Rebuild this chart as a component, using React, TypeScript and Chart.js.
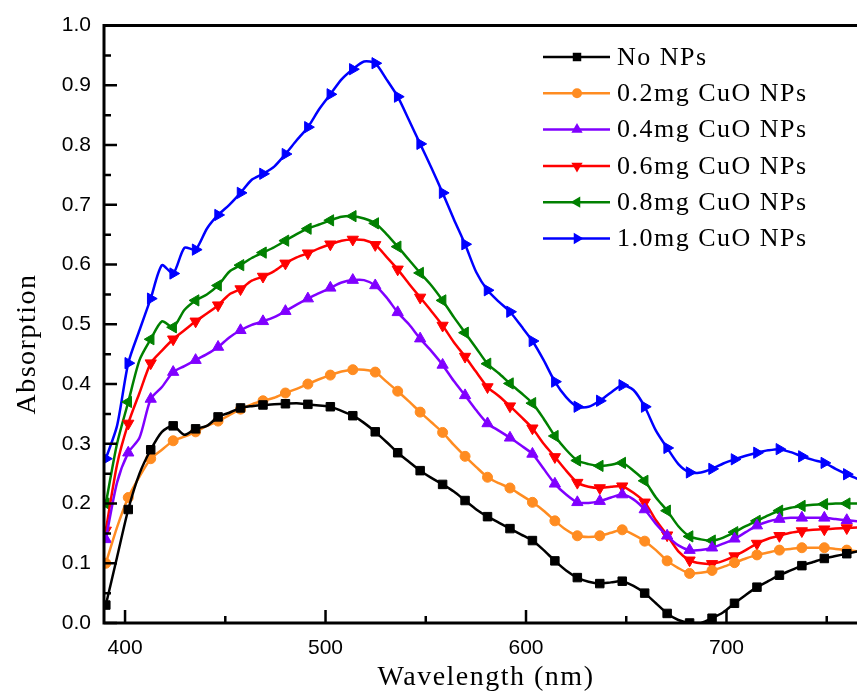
import React, { useEffect, useRef } from "react";
import { Chart, registerables } from "chart.js";

Chart.register(...registerables);

const wavelengths = [
  390.4, 396.0, 401.6, 407.2, 412.8, 418.4, 424.0, 429.6, 435.2, 440.8,
  446.4, 452.0, 457.6, 463.2, 468.8, 474.4, 480.0, 485.6, 491.2, 496.8,
  502.4, 508.0, 513.6, 519.2, 524.8, 530.4, 536.0, 541.6, 547.2, 552.8,
  558.4, 564.0, 569.6, 575.2, 580.8, 586.4, 592.0, 597.6, 603.2, 608.8,
  614.4, 620.0, 625.6, 631.2, 636.8, 642.4, 648.0, 653.6, 659.2, 664.8,
  670.4, 676.0, 681.6, 687.2, 692.8, 698.4, 704.0, 709.6, 715.2, 720.8,
  726.4, 732.0, 737.6, 743.2, 748.8, 754.4, 760.0, 765.6,
];

const noNPs = [
  0.03, 0.11, 0.19, 0.25, 0.29, 0.32, 0.33, 0.315, 0.325, 0.33,
  0.345, 0.352, 0.36, 0.363, 0.365, 0.366, 0.367, 0.368, 0.366, 0.364,
  0.362, 0.355, 0.347, 0.335, 0.32, 0.303, 0.285, 0.27, 0.255, 0.243,
  0.232, 0.22, 0.205, 0.19, 0.178, 0.168, 0.158, 0.148, 0.138, 0.122,
  0.104, 0.088, 0.076, 0.069, 0.066, 0.068, 0.07, 0.062, 0.05, 0.033,
  0.016, 0.005, 0.0, 0.0, 0.008, 0.018, 0.033, 0.047, 0.06, 0.07,
  0.08, 0.088, 0.096, 0.102, 0.108, 0.112, 0.116, 0.12,
];

const cuo02 = [
  0.1, 0.16, 0.21, 0.245, 0.275, 0.29, 0.305, 0.312, 0.32, 0.33,
  0.338, 0.348, 0.358, 0.366, 0.372, 0.377, 0.385, 0.392, 0.4, 0.408,
  0.415, 0.421, 0.424, 0.424, 0.42, 0.404, 0.388, 0.371, 0.353, 0.336,
  0.319, 0.298, 0.279, 0.261, 0.244, 0.234, 0.226, 0.214, 0.202, 0.188,
  0.171, 0.156, 0.146, 0.144, 0.146, 0.151, 0.156, 0.148, 0.137, 0.122,
  0.104, 0.092, 0.083, 0.084, 0.088, 0.094, 0.101, 0.108, 0.114, 0.118,
  0.122, 0.124, 0.126, 0.126, 0.126, 0.124, 0.122, 0.12,
];

const cuo04 = [
  0.14, 0.235, 0.285, 0.31, 0.375, 0.395, 0.42, 0.43, 0.44, 0.45,
  0.462, 0.478, 0.49, 0.499, 0.505, 0.512, 0.522, 0.533, 0.543, 0.552,
  0.561, 0.57, 0.574, 0.574, 0.565, 0.545, 0.52, 0.5, 0.476, 0.455,
  0.432, 0.405, 0.381, 0.356, 0.334, 0.322, 0.31, 0.297, 0.283, 0.258,
  0.233, 0.215, 0.202, 0.201, 0.204, 0.21, 0.215, 0.207, 0.19, 0.166,
  0.146, 0.13, 0.122, 0.122, 0.126, 0.133, 0.141, 0.152, 0.163, 0.17,
  0.174, 0.176, 0.176, 0.176, 0.176, 0.174, 0.172, 0.17,
];

const cuo06 = [
  0.155, 0.265, 0.334, 0.385, 0.435, 0.456, 0.475, 0.49, 0.505, 0.518,
  0.532, 0.55, 0.559, 0.573, 0.58, 0.589, 0.602, 0.612, 0.619, 0.627,
  0.634, 0.64, 0.642, 0.641, 0.633, 0.613, 0.592, 0.568, 0.545, 0.522,
  0.498, 0.47, 0.446, 0.42, 0.395, 0.38, 0.363, 0.345, 0.326, 0.3,
  0.278, 0.255, 0.235, 0.228, 0.226, 0.228, 0.229, 0.218, 0.202, 0.172,
  0.147, 0.12, 0.105, 0.1, 0.099, 0.104, 0.112, 0.122, 0.133, 0.141,
  0.146, 0.151, 0.154, 0.156, 0.157, 0.158, 0.159, 0.16,
];

const cuo08 = [
  0.2, 0.3, 0.37, 0.44, 0.475, 0.505, 0.495, 0.524, 0.54, 0.55,
  0.565, 0.588, 0.599, 0.611, 0.62, 0.629, 0.64, 0.651, 0.66, 0.667,
  0.674, 0.68, 0.681, 0.677, 0.669, 0.651, 0.63, 0.608, 0.586, 0.565,
  0.54, 0.512, 0.486, 0.46, 0.434, 0.418, 0.401, 0.385, 0.368, 0.342,
  0.313, 0.29, 0.272, 0.266, 0.263, 0.265, 0.268, 0.255, 0.238, 0.21,
  0.188, 0.162, 0.145, 0.14, 0.138, 0.143, 0.152, 0.162, 0.171, 0.18,
  0.188, 0.193, 0.196, 0.198, 0.199, 0.2, 0.2, 0.2,
];

const cuo10 = [
  0.275, 0.33, 0.435, 0.49, 0.543, 0.599, 0.585, 0.628, 0.625, 0.66,
  0.683, 0.7, 0.72, 0.742, 0.752, 0.764, 0.785, 0.808, 0.83, 0.86,
  0.885, 0.91, 0.927, 0.94, 0.937, 0.91, 0.881, 0.842, 0.802, 0.762,
  0.72, 0.676, 0.634, 0.587, 0.557, 0.538, 0.521, 0.497, 0.472, 0.44,
  0.404, 0.378, 0.362, 0.362, 0.372, 0.386, 0.398, 0.39, 0.362, 0.322,
  0.293, 0.266, 0.252, 0.252, 0.258, 0.267, 0.274, 0.28, 0.285, 0.289,
  0.291, 0.286, 0.279, 0.273, 0.268, 0.258, 0.249, 0.241,
];

const seriesLabels = [
  "No NPs",
  "0.2mg CuO NPs",
  "0.4mg CuO NPs",
  "0.6mg CuO NPs",
  "0.8mg CuO NPs",
  "1.0mg CuO NPs",
];
const seriesValues = [noNPs, cuo02, cuo04, cuo06, cuo08, cuo10];
const seriesColors = ["#000000", "#FF8C21", "#8000FF", "#FF0000", "#008000", "#0000FF"];
const seriesShapes = ["rect", "circle", "triangle", "triangle", "triangle", "triangle"];
const seriesRotations = [0, 0, 0, 180, -90, 90];
const seriesRadii = [6, 5, 6.5, 6.5, 6.5, 6.5];

const xMajorTicks = [400, 500, 600, 700];
const xMinorTicks = [450, 550, 650, 750];
const yMajorTicks = [0, 0.1, 0.2, 0.3, 0.4, 0.5, 0.6, 0.7, 0.8, 0.9, 1.0];
const yMinorTicks = [0.05, 0.15, 0.25, 0.35, 0.45, 0.55, 0.65, 0.75, 0.85, 0.95];

const xTitle = "Wavelength (nm)";
const yTitle = "Absorption";

function drawMarker(ctx: CanvasRenderingContext2D, shape: string, x: number, y: number, r: number, rotDeg: number) {
  ctx.beginPath();
  if (shape === "rect") {
    const s = Math.SQRT1_2 * r;
    ctx.rect(x - s, y - s, 2 * s, 2 * s);
  } else if (shape === "circle") {
    ctx.arc(x, y, r, 0, Math.PI * 2);
  } else {
    let rad = (rotDeg * Math.PI) / 180;
    ctx.moveTo(x + Math.sin(rad) * r, y - Math.cos(rad) * r);
    rad += (2 * Math.PI) / 3;
    ctx.lineTo(x + Math.sin(rad) * r, y - Math.cos(rad) * r);
    rad += (2 * Math.PI) / 3;
    ctx.lineTo(x + Math.sin(rad) * r, y - Math.cos(rad) * r);
    ctx.closePath();
  }
  ctx.fill();
}

const framePlugin = {
  id: "frame",
  afterDatasetsDraw(chart: any) {
    const { ctx, chartArea: a, scales } = chart;
    const x = scales.x;
    const y = scales.y;
    ctx.save();
    ctx.strokeStyle = "#000";
    ctx.lineCap = "butt";
    ctx.lineWidth = 2.5;
    ctx.beginPath();
    xMajorTicks.forEach((v) => {
      const px = x.getPixelForValue(v);
      ctx.moveTo(px, a.bottom);
      ctx.lineTo(px, a.bottom - 13);
    });
    xMinorTicks.forEach((v) => {
      const px = x.getPixelForValue(v);
      ctx.moveTo(px, a.bottom);
      ctx.lineTo(px, a.bottom - 7);
    });
    yMajorTicks.forEach((v) => {
      const py = y.getPixelForValue(v);
      ctx.moveTo(a.left, py);
      ctx.lineTo(a.left + 13, py);
    });
    yMinorTicks.forEach((v) => {
      const py = y.getPixelForValue(v);
      ctx.moveTo(a.left, py);
      ctx.lineTo(a.left + 7, py);
    });
    ctx.stroke();

    ctx.lineWidth = 3;
    ctx.beginPath();
    ctx.moveTo(a.left, a.top);
    ctx.lineTo(a.right, a.top);
    ctx.moveTo(a.left, a.top - 1.5);
    ctx.lineTo(a.left, a.bottom + 1.5);
    ctx.moveTo(a.left - 1.5, a.bottom);
    ctx.lineTo(a.right, a.bottom);
    ctx.stroke();
    ctx.restore();
  },
  afterDraw(chart: any) {
    const { ctx } = chart;
    ctx.save();
    ctx.fillStyle = "#000";
    ctx.textAlign = "center";
    ctx.textBaseline = "middle";
    ctx.font = '28px "Liberation Serif"';
    (ctx as any).letterSpacing = "1.5px";
    ctx.fillText(xTitle, 486, 678);
    ctx.save();
    ctx.translate(28, 344);
    ctx.rotate(-Math.PI / 2);
    ctx.fillText(yTitle, 0, 0);
    ctx.restore();

    // legend
    const x0 = 543;
    const x1 = 610;
    const xm = 577;
    const tx = 617;
    ctx.font = '26px "Liberation Serif"';
    ctx.textAlign = "left";
    seriesLabels.forEach((label, i) => {
      const yy = 57 + 36.3 * i;
      ctx.strokeStyle = seriesColors[i];
      ctx.fillStyle = seriesColors[i];
      ctx.lineWidth = 2.5;
      ctx.beginPath();
      ctx.moveTo(x0, yy);
      ctx.lineTo(x1, yy);
      ctx.stroke();
      drawMarker(ctx, seriesShapes[i], xm, yy, seriesRadii[i], seriesRotations[i]);
      ctx.fillStyle = "#000";
      ctx.fillText(label, tx, yy + 1);
    });
    ctx.restore();
  },
};

export default function App() {
  const canvasRef = useRef<HTMLCanvasElement | null>(null);

  useEffect(() => {
    const canvas = canvasRef.current;
    if (!canvas) return;
    const datasets = seriesLabels.map((label, i) => ({
      label,
      data: wavelengths.map((w, j) => ({ x: w, y: seriesValues[i][j] })),
      borderColor: seriesColors[i],
      backgroundColor: seriesColors[i],
      borderWidth: 2.5,
      pointStyle: seriesShapes[i],
      rotation: seriesRotations[i],
      pointRadius: (c: any) => (c.dataIndex % 2 === 0 ? seriesRadii[i] : 0),
      pointBorderWidth: 1,
      pointHoverRadius: 0,
      tension: 0.25,
    }));

    const chart = new Chart(canvas, {
      type: "line",
      data: { datasets },
      plugins: [framePlugin],
      options: {
        animation: false,
        responsive: false,
        maintainAspectRatio: false,
        devicePixelRatio: 1,
        layout: { autoPadding: false, padding: { left: 0, right: 0, top: 23, bottom: 0 } },
        plugins: {
          legend: { display: false },
          tooltip: { enabled: false },
        },
        scales: {
          x: {
            type: "linear",
            min: 389.5,
            max: 765.1,
            afterFit: (s: any) => {
              s.height = 77;
            },
            afterBuildTicks: (s: any) => {
              s.ticks = xMajorTicks.map((v) => ({ value: v }));
            },
            grid: { display: false, drawTicks: false },
            border: { display: false },
            ticks: {
              color: "#000",
              padding: 13,
              maxRotation: 0,
              autoSkip: false,
              font: { family: "Liberation Sans", size: 21 },
              callback: (v: any) => String(v),
            },
          },
          y: {
            type: "linear",
            min: 0,
            max: 1,
            afterFit: (s: any) => {
              s.width = 104;
            },
            afterBuildTicks: (s: any) => {
              s.ticks = yMajorTicks.map((v) => ({ value: v }));
            },
            grid: { display: false, drawTicks: false },
            border: { display: false },
            ticks: {
              color: "#000",
              padding: 13,
              autoSkip: false,
              font: { family: "Liberation Sans", size: 21 },
              callback: (v: any) => Number(v).toFixed(1),
            },
          },
        },
      },
    });
    return () => chart.destroy();
  }, []);

  return (
    <div style={{ position: "absolute", left: 0, top: 0, width: 857, height: 700, background: "#fff" }}>
      <canvas ref={canvasRef} width={857} height={700} style={{ display: "block", width: 857, height: 700 }} />
    </div>
  );
}
